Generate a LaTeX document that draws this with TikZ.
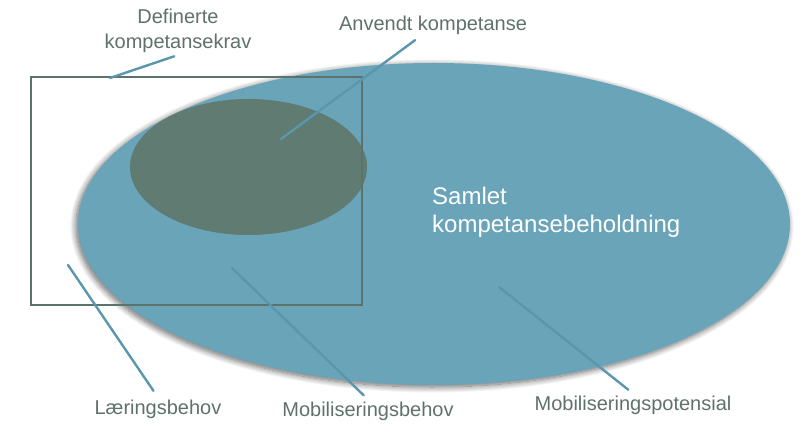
\documentclass[tikz,border=0pt]{standalone}
\usepackage{fontspec}
\setmainfont{Liberation Sans}
\usepackage{xcolor}
\usetikzlibrary{shadows.blur}

\definecolor{poolblue}{HTML}{6AA4B9}
\definecolor{usedgreen}{HTML}{5F7B72}
\definecolor{framegreen}{HTML}{5B736B}
\definecolor{leaderblue}{HTML}{5A97AD}
\definecolor{taggrey}{HTML}{5F716C}

\begin{document}
\begin{tikzpicture}[
    x=1pt, y=-1pt,
    tag/.style={font=\fontsize{20}{25}\selectfont, text=taggrey, align=center, inner sep=2pt},
    leader/.style={draw=leaderblue, line width=2.4pt, line cap=round}
]
    \useasboundingbox (0,0) rectangle (811,435);

    % competence areas
    \fill[poolblue, blur shadow={shadow xshift=-2pt, shadow yshift=-2pt, shadow blur radius=6pt, shadow blur steps=12, shadow opacity=60}]
        (434,224) ellipse [x radius=356pt, y radius=161pt];
    \fill[usedgreen] (248.5,167) ellipse [x radius=118.5pt, y radius=68pt];
    \draw[framegreen, line width=1.8pt] (31,77) rectangle (362,305);

    % labels
    \node[tag] (krav) at (178,31) {Definerte\\kompetansekrav};
    \node[tag] (anvendt) at (433,25) {Anvendt kompetanse};
    \node[font=\fontsize{24}{28}\selectfont, text=white, align=left, anchor=north west, inner sep=0pt] (samlet) at (432,187) {Samlet\\kompetansebeholdning};
    \node[tag] (laering) at (158,409) {Læringsbehov};
    \node[tag] (mobbehov) at (368,411) {Mobiliseringsbehov};
    \node[tag] (mobpot) at (633,405) {Mobiliseringspotensial};

    % leader points
    \coordinate (p-krav) at (110,78);
    \coordinate (p-anvendt) at (281,139);
    \coordinate (p-laering) at (68,265);
    \coordinate (p-mobbehov) at (232,268);
    \coordinate (p-mobpot) at (499,287);

    \draw[leader, shorten >=4pt] (p-krav) -- (krav.south);
    \draw[leader, shorten >=6pt] (p-anvendt) -- ([xshift=-13pt]anvendt.south);
    \draw[leader, shorten >=8pt] (p-laering) -- (laering.north);
    \draw[leader, shorten >=6pt] (p-mobbehov) -- (mobbehov.north);
    \draw[leader, shorten >=6pt] (p-mobpot) -- (mobpot.north);
\end{tikzpicture}
\end{document}
